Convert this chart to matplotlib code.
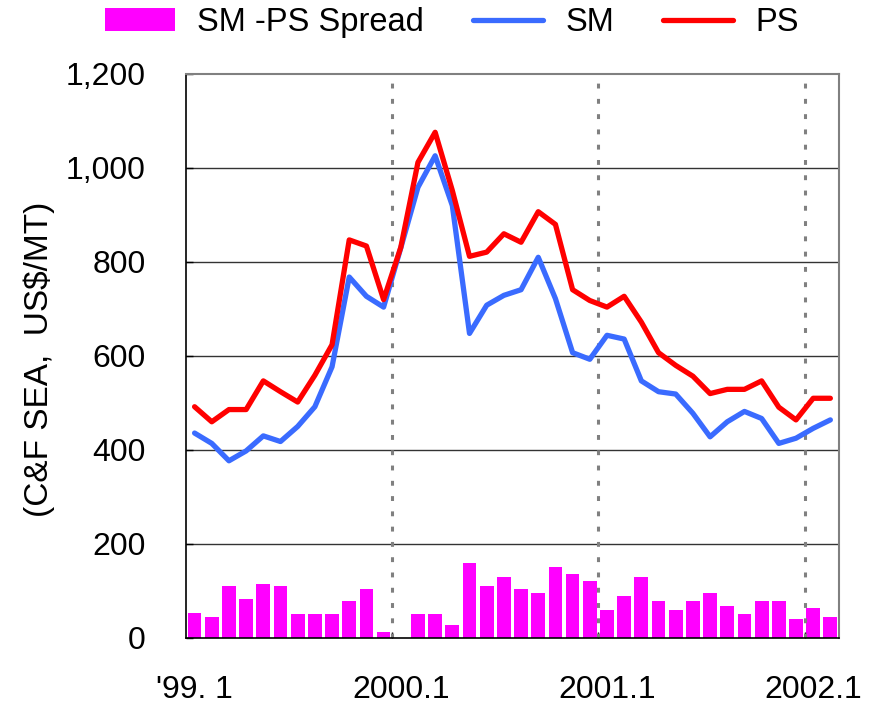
import matplotlib
matplotlib.use("Agg")
import matplotlib.pyplot as plt
from matplotlib.patches import Patch
from matplotlib.lines import Line2D

plt.rcParams['font.family'] = ['Liberation Sans', 'DejaVu Sans']

# monthly, Jan 1999 .. Feb 2002
months = list(range(38))
tick_pos = [0, 12, 24, 36]
tick_labels = ["'99. 1", "2000.1", "2001.1", "2002.1"]
year_bounds = [11.5, 23.5, 35.5]

ps = [492, 460, 486, 486, 547, 524, 502, 559, 624, 847, 834, 720,
      831, 1012, 1076, 952, 812, 821, 860, 842, 907, 880, 741, 718,
      704, 727, 672, 607, 580, 557, 520, 529, 529, 547, 491, 464,
      510, 510]
sm = [436, 414, 377, 398, 430, 418, 450, 492, 577, 768, 727, 704,
      830, 959, 1026, 920, 648, 708, 729, 741, 810, 722, 607, 593,
      644, 636, 547, 524, 519, 478, 428, 460, 482, 467, 414, 425,
      446, 464]
spread = [54, 44, 110, 82, 114, 110, 50, 50, 50, 78, 105, 12,
          0, 50, 50, 27, 160, 110, 129, 105, 95, 152, 137, 122,
          59, 90, 129, 78, 59, 78, 95, 67, 50, 78, 78, 40,
          63, 44]

blue = '#3A6BFF'
red = '#FF0000'
magenta = '#FF00FF'

fig = plt.figure(figsize=(8.74, 7.04), dpi=100)
ax = fig.add_axes([0.2128, 0.0938, 0.7471, 0.8011])

# horizontal grid
for v in [200, 400, 600, 800, 1000]:
    ax.axhline(v, color='#333333', lw=1.0, zorder=0)

ax.bar(months, spread, width=0.8, color=magenta, zorder=1)

for b in year_bounds:
    ax.axvline(b, color='#808080', lw=2.2, linestyle=(0, (1.6, 3.4)),
               dash_capstyle='butt', zorder=2)

ax.plot(months, sm, color=blue, lw=3.8, solid_capstyle='round',
        solid_joinstyle='round', zorder=3)
ax.plot(months, ps, color=red, lw=3.8, solid_capstyle='round',
        solid_joinstyle='round', zorder=4)

ax.set_xlim(-0.5, 37.5)
ax.set_ylim(0, 1200)

ax.set_yticks([0, 200, 400, 600, 800, 1000, 1200])
ax.set_yticklabels(['0', '200', '400', '600', '800', '1,000', '1,200'])
ax.set_xticks(tick_pos)
ax.set_xticklabels(tick_labels)
ax.set_xticks(year_bounds, minor=True)

ax.tick_params(axis='y', direction='in', length=5, width=1, pad=29,
               labelsize=23, colors='black')
ax.tick_params(axis='x', which='major', length=0, pad=27, labelsize=23)
ax.tick_params(axis='x', which='minor', direction='in', length=4, width=1)

for s in ['left', 'bottom']:
    ax.spines[s].set_color('black')
    ax.spines[s].set_linewidth(1.2)
for s in ['top', 'right']:
    ax.spines[s].set_color('#808080')
    ax.spines[s].set_linewidth(1.5)

ax.set_ylabel('(C&F SEA,  US$/MT)', fontsize=24)
ax.yaxis.set_label_coords(-0.200, 0.494)

handles = [Patch(facecolor=magenta, edgecolor='none'),
           Line2D([], [], color=blue, lw=3.8, solid_capstyle='round'),
           Line2D([], [], color=red, lw=3.8, solid_capstyle='round')]
fig.legend(handles, ['SM -PS Spread', 'SM', 'PS'], loc='center',
           bbox_to_anchor=(0.517, 0.968), ncol=3, frameon=False,
           fontsize=23.5, handlelength=2.15, handletextpad=0.67,
           columnspacing=1.5, borderpad=0)

fig.savefig('out.png', dpi=100)
